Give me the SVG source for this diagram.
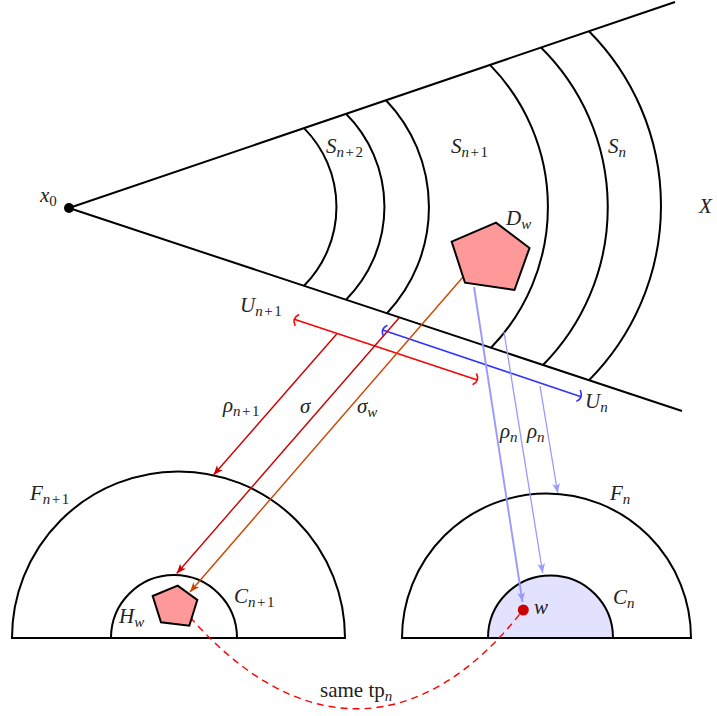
<svg xmlns="http://www.w3.org/2000/svg" width="717" height="716" viewBox="0 0 717 716">
<style>
.blk{fill:none;stroke:#000;stroke-width:2}
.t{font-family:"Liberation Serif",serif;font-style:italic;font-size:21px;fill:#222}
.r{font-style:normal}
.s{font-size:15px}
</style>
<defs>
<marker id="aR" markerWidth="12" markerHeight="10" viewBox="-9 -4 10 8" refX="0" refY="0" orient="auto" markerUnits="userSpaceOnUse"><path d="M0,0 L-8,-3.2 L-6,0 L-8,3.2 Z" fill="#cc0000"/></marker>
<marker id="aO" markerWidth="12" markerHeight="10" viewBox="-9 -4 10 8" refX="0" refY="0" orient="auto" markerUnits="userSpaceOnUse"><path d="M0,0 L-8,-3.2 L-6,0 L-8,3.2 Z" fill="#cc4400"/></marker>
<marker id="aB" markerWidth="12" markerHeight="10" viewBox="-9 -4 10 8" refX="0" refY="0" orient="auto" markerUnits="userSpaceOnUse"><path d="M0,0 L-8,-3.2 L-6,0 L-8,3.2 Z" fill="#9999ff"/></marker>
</defs>
<rect width="717" height="716" fill="#fff"/>

<g id="cone">
<path class="blk" d="M69,208 L675,2 M69,208 L682,411"/>
<circle cx="69" cy="208" r="5" fill="#000"/>
<path class="blk" d="M304,128.1 A112,112 0 0 1 304,285.8"/>
<path class="blk" d="M346,113.8 A131.6,131.6 0 0 1 346,299.7"/>
<path class="blk" d="M386,100.2 A155,155 0 0 1 387,313.3"/>
<path class="blk" d="M490,64.9 A203,203 0 0 1 491,347.8"/>
<path class="blk" d="M541,47.5 A224.5,224.5 0 0 1 543,365"/>
<path class="blk" d="M589,31.2 A247.5,247.5 0 0 1 589,380.2"/>
</g>

<g id="Fn1"><path class="blk" d="M12,638 A166.5,166.5 0 0 1 345,638 Z"/></g>
<g id="Cn1"><path class="blk" d="M111,638 A63,63 0 0 1 237,638"/></g>
<g id="Fn"><path class="blk" d="M402,638 A144.5,144.5 0 0 1 691,638 Z"/></g>
<g id="Cn"><path d="M488,638 A62.5,62.5 0 0 1 613,638 Z" fill="#e2e2ff" stroke="#000" stroke-width="2"/></g>

<g id="connectors">
<path d="M190,617 C301.5,744 424.3,737 523,610" fill="none" stroke="#ff0000" stroke-width="1.4" stroke-dasharray="7 5"/>
<path d="M294.3,319.3 L477.3,380" stroke="#ff0000" stroke-width="1.6" fill="none"/>
<path d="M299,314.5 Q291.5,318.4 295.2,325.9 M476.4,373.4 Q480.1,380.9 472.6,384.8" stroke="#ff0000" stroke-width="1.6" fill="none"/>
<path d="M382.7,330 L581,396.7" stroke="#3333ff" stroke-width="1.6" fill="none"/>
<path d="M387.4,325.3 Q379.9,329 383.6,336.7 M580.1,390 Q583.8,397.7 576.3,401.4" stroke="#3333ff" stroke-width="1.6" fill="none"/>
<path d="M336.7,334 L213.5,475" stroke="#cc0000" stroke-width="1.4" fill="none" marker-end="url(#aR)"/>
<path d="M399,318 L176.7,573.5" stroke="#cc0000" stroke-width="1.4" fill="none" marker-end="url(#aR)"/>
<path d="M463,277 L190,592" stroke="#cc4400" stroke-width="1.4" fill="none" marker-end="url(#aO)"/>
<path d="M474,287 L522.5,602" stroke="#9999ff" stroke-width="1.9" fill="none" marker-end="url(#aB)"/>
<path d="M504,332 L542.7,573" stroke="#9999ff" stroke-width="1.3" fill="none" marker-end="url(#aB)"/>
<path d="M540,386 L557.7,493" stroke="#9999ff" stroke-width="1.3" fill="none" marker-end="url(#aB)"/>
</g>

<g id="Dw"><path d="M451.7,241.7 L496,222.7 L529.5,248 L514.5,290 L465,282.7 Z" fill="#ff9999" stroke="#000" stroke-width="2"/></g>
<g id="Hw"><path d="M152.7,596 L177.7,585.7 L197.3,600 L189.3,625.7 L161,622.3 Z" fill="#ff9999" stroke="#000" stroke-width="2"/></g>
<g id="w"><circle cx="523.3" cy="610" r="5.5" fill="#cc0000"/></g>

<g id="labels">
<text class="t" x="40" y="202">x<tspan class="s r" dy="4">0</tspan></text>
<text class="t" x="326" y="153">S<tspan class="s" dy="4">n</tspan><tspan class="s r" dx="1.5">+</tspan><tspan class="s r" dx="1.5">2</tspan></text>
<text class="t" x="451" y="153">S<tspan class="s" dy="4">n</tspan><tspan class="s r" dx="1.5">+</tspan><tspan class="s r" dx="1.5">1</tspan></text>
<text class="t" x="608" y="153">S<tspan class="s" dy="4">n</tspan></text>
<text class="t" x="699" y="213">X</text>
<text class="t" x="506" y="225">D<tspan class="s" dy="4">w</tspan></text>
<text class="t" x="240" y="312">U<tspan class="s" dy="4">n</tspan><tspan class="s r" dx="1.5">+</tspan><tspan class="s r" dx="1.5">1</tspan></text>
<text class="t" x="585" y="408">U<tspan class="s" dy="4">n</tspan></text>
<text class="t" x="223" y="412">ρ<tspan class="s" dy="4">n</tspan><tspan class="s r" dx="1.5">+</tspan><tspan class="s r" dx="1.5">1</tspan></text>
<text class="t" x="300" y="413">σ</text>
<text class="t" x="357" y="413">σ<tspan class="s" dy="4">w</tspan></text>
<text class="t" x="500" y="438">ρ<tspan class="s" dy="4">n</tspan></text>
<text class="t" x="527" y="438">ρ<tspan class="s" dy="4">n</tspan></text>
<text class="t" x="30" y="500">F<tspan class="s" dy="4">n</tspan><tspan class="s r" dx="1.5">+</tspan><tspan class="s r" dx="1.5">1</tspan></text>
<text class="t" x="234" y="603">C<tspan class="s" dy="4">n</tspan><tspan class="s r" dx="1.5">+</tspan><tspan class="s r" dx="1.5">1</tspan></text>
<text class="t" x="119" y="623">H<tspan class="s" dy="4">w</tspan></text>
<text class="t" x="610" y="500">F<tspan class="s" dy="4">n</tspan></text>
<text class="t" x="613" y="604">C<tspan class="s" dy="4">n</tspan></text>
<text class="t" x="534" y="614">w</text>
<text class="t r" x="320" y="697">same tp<tspan class="s t" dy="4">n</tspan></text>
</g>
</svg>
